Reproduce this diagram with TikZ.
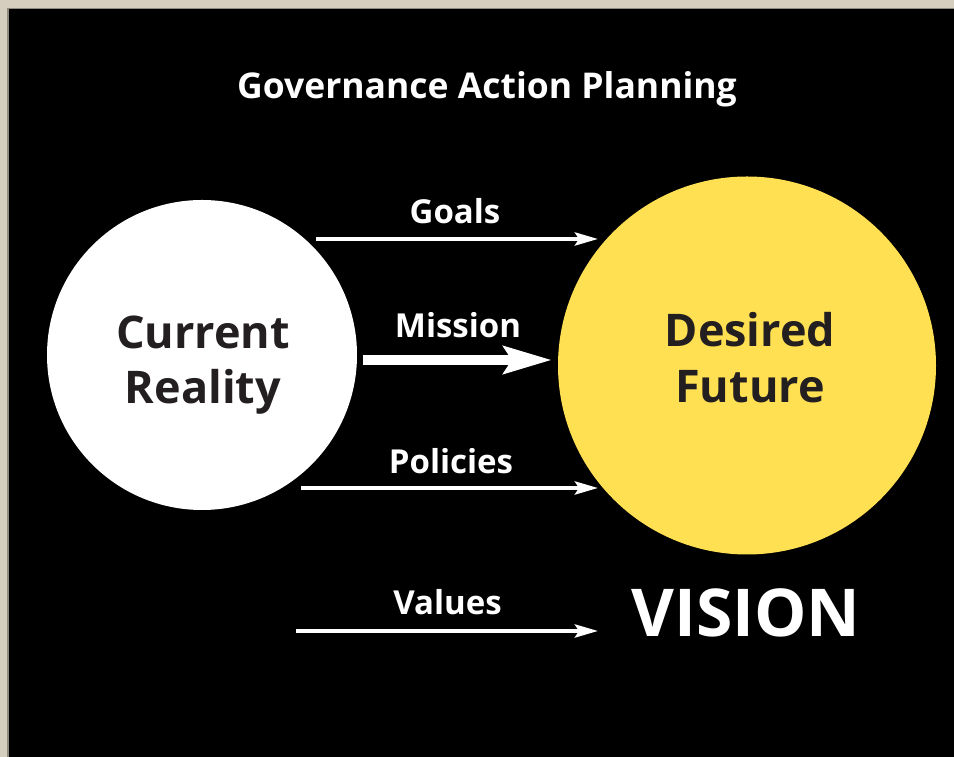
\documentclass[tikz,border=0pt]{standalone}
\usepackage{fontspec}
\setmainfont{Open Sans}
\usetikzlibrary{arrows.meta}
\definecolor{beige}{HTML}{D5CEBF}
\definecolor{edgegray}{HTML}{8F8B7E}
\definecolor{sun}{HTML}{FFE052}
\definecolor{ink}{HTML}{231F20}
\tikzset{
  x=1pt, y=1pt,
  lbl/.style={anchor=base, text=white, font=\bfseries\fontsize{33}{38}\selectfont, inner sep=0pt},
  big/.style={anchor=base, text=ink, font=\bfseries\fontsize{45}{52}\selectfont, inner sep=0pt},
  thinarrow/.style={draw=white, line width=4pt, -{Stealth[length=23pt,width=13pt,inset=4pt]}},
  thickarrow/.style={draw=white, line width=10.5pt, -{Stealth[length=48pt,width=27pt,inset=8pt]}},
}
\begin{document}
\begin{tikzpicture}
\useasboundingbox (0,0) rectangle (954,757);
\fill[beige] (0,0) rectangle (954,757);
\fill[black] (8,0) rectangle (954,748);
\draw[edgegray, line width=1.5pt] (7.75,0) -- (7.75,748.25) -- (954,748.25);

\node[circle, fill=white, minimum size=310pt, inner sep=0pt] (cr) at (202,402) {};
\node[circle, fill=sun, minimum size=378pt, inner sep=0pt] (df) at (747,391.5) {};

\node[lbl, font=\bfseries\fontsize{35.5}{40}\selectfont] (title) at (487,658) {Governance Action Planning};

\node[big] (cr1) at (203,408) {Current};
\node[big] (cr2) at (203,353) {Reality};
\node[big] (df1) at (750,410) {Desired};
\node[big] (df2) at (750,354) {Future};

\coordinate (g1) at (316,518); \coordinate (g2) at (598,518);
\coordinate (m1) at (363,397); \coordinate (m2) at (552,397);
\coordinate (p1) at (301,269); \coordinate (p2) at (598,269);
\coordinate (v1) at (296,126); \coordinate (v2) at (598,126);

\draw[thinarrow] (g1) -- (g2);
\draw[thickarrow] (m1) -- (m2);
\draw[thinarrow] (p1) -- (p2);
\draw[thinarrow] (v1) -- (v2);

\node[lbl] (goals) at (455,533) {Goals};
\node[lbl] (mission) at (458,419) {Mission};
\node[lbl] (policies) at (451,283) {Policies};
\node[lbl] (values) at (447.5,142) {Values};

\node[anchor=base, text=white, font=\bfseries\fontsize{66}{74}\selectfont, inner sep=0pt] (vision) at (746,120) {VISION};
\end{tikzpicture}
\end{document}
